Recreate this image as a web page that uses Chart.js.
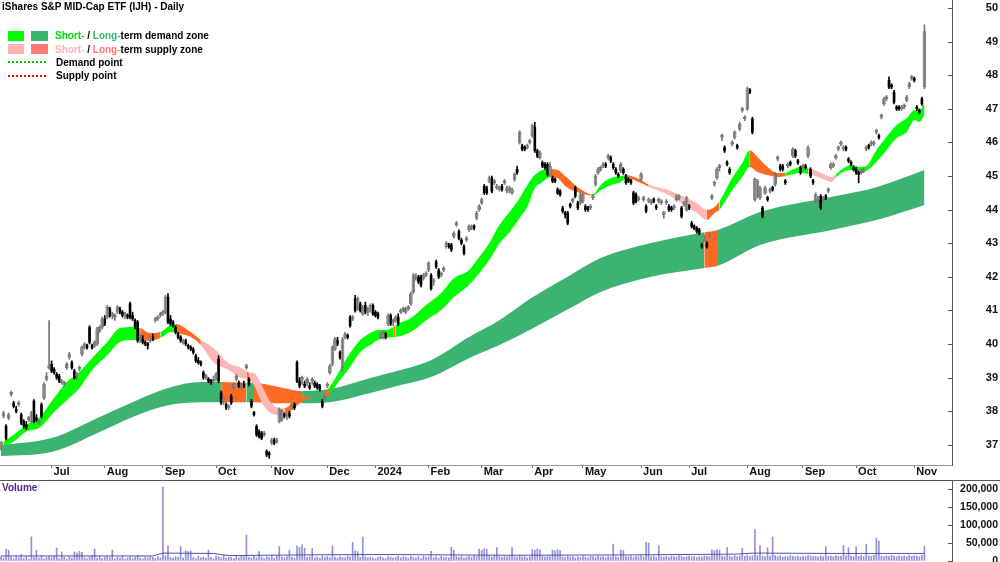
<!DOCTYPE html>
<html>
<head>
<meta charset="utf-8">
<script src="https://cdn.jsdelivr.net/npm/chart.js@4.4.1/dist/chart.umd.min.js"></script>
<style>
html, body { margin: 0; padding: 0; background: #fff; }
#wrap { position: relative; width: 1000px; height: 562px; overflow: hidden; }
#price { position: absolute; left: 0; top: 0; }
#vol { position: absolute; left: 0; top: 481px; }
#sep { position: absolute; left: 0; top: 480px; width: 1000px; height: 1px; background: #555; }
#title { position: absolute; left: 2px; top: 0px; font-weight: bold; color: #000; white-space: nowrap; transform-origin: 0 0; }
#legend { position: absolute; left: 8px; top: 29px; font-weight: bold; color: #000; }
.row { height: 13.4px; display: flex; align-items: center; white-space: nowrap; }
.sw { display: inline-block; width: 16px; height: 10px; margin-right: 7px; }
.dots { display: inline-block; width: 40px; height: 2px; margin-right: 8px; }
.g { background: repeating-linear-gradient(90deg, #00cc00 0 2px, transparent 2px 4px); }
.r { background: repeating-linear-gradient(90deg, #ff0000 0 2px, transparent 2px 4px); }
#vlabel { position: absolute; left: 2px; top: 482px; color: #55228a; font-weight: bold; }
</style>
</head>
<body>
<div id="wrap">
  <canvas id="price" width="1000" height="480"></canvas>
  <div id="sep"></div>
  <canvas id="vol" width="1000" height="81"></canvas>
  <div id="title">iShares S&amp;P MID-Cap ETF (IJH) - Daily</div>
  <div id="legend">
    <div class="row"><span class="sw" style="background:#00ff00"></span><span class="sw" style="background:#3cb371;width:17px"></span><span><span style="color:#00dd00">Short-</span> / <span style="color:#3cb371">Long-</span>term demand zone</span></div>
    <div class="row"><span class="sw" style="background:#ffb3b3"></span><span class="sw" style="background:#ff7777;width:17px"></span><span><span style="color:#ffb3b3">Short-</span> / <span style="color:#ff7777">Long-</span>term supply zone</span></div>
    <div class="row"><span class="dots g"></span><span>Demand point</span></div>
    <div class="row"><span class="dots r"></span><span>Supply point</span></div>
  </div>
  <div id="vlabel">Volume</div>
</div>
<script>
// daily candles, one per trading day (index 0 = early June 2023)
const opens = [
36.95,37.85,37.55,37.80,38.50,38.25,38.05,38.20,37.90,37.70, 37.60,37.75,37.70,38.30,37.80,37.65,38.20,38.40,38.95,39.30,
39.40,39.25,39.10,39.05,38.85,38.80,39.30,39.60,39.45,39.20, 39.05,39.25,39.70,39.90,39.95,40.50,39.95,39.95,40.00,40.40,
40.50,40.75,40.80,41.05,40.85,40.80,40.95,41.05,40.95,40.85, 40.85,41.20,40.85,40.70,40.65,40.20,40.15,40.05,40.00,40.10,
40.20,40.70,40.75,40.85,40.90,40.95,41.40,40.75,40.65,40.50, 40.30,40.20,40.05,40.10,39.95,39.90,39.85,39.65,39.50,39.45,
39.15,39.00,38.95,38.90,38.90,39.00,39.55,38.55,38.30,38.20, 38.10,38.45,38.70,38.95,38.85,38.75,38.80,39.30,38.95,38.30,
37.95,37.55,37.40,37.35,37.30,36.80,36.75,37.05,37.15,37.10, 37.70,37.75,37.90,37.85,37.95,38.15,38.20,39.45,38.90,38.95,
38.80,38.85,38.75,38.90,38.85,38.80,38.75,38.30,38.40,38.75, 39.15,39.40,39.85,40.10,39.75,39.30,40.20,40.25,40.80,40.75,
41.35,41.05,41.20,40.90,41.15,40.95,41.00,41.15,40.95,40.90, 40.20,40.20,40.30,40.60,40.85,40.65,40.70,40.80,40.95,41.00,
40.95,41.05,41.20,41.55,41.95,42.00,42.00,41.95,42.05,42.20, 42.05,41.85,42.45,42.20,42.05,42.20,42.90,42.95,42.95,43.20,
43.55,43.35,43.10,42.90,43.10,43.40,43.45,43.50,43.75,44.00, 44.20,44.70,44.65,44.85,44.95,44.80,44.65,44.60,44.70,44.80,
44.55,44.55,44.50,44.90,45.20,46.00,45.90,45.85,45.85,46.00, 46.20,46.45,45.75,45.55,45.40,45.35,45.35,45.05,44.95,44.90,
44.60,44.55,44.05,43.90,43.90,44.15,44.25,44.65,44.20,44.20, 44.25,44.10,44.05,44.05,44.35,44.75,45.10,45.20,45.30,45.35,
45.55,45.55,45.35,45.20,45.05,45.15,45.20,45.00,44.90,44.85, 44.50,44.45,44.30,44.90,44.30,44.10,44.25,44.20,44.30,44.10,
44.25,44.20,43.85,44.20,44.10,44.05,44.05,44.30,44.35,44.05, 44.15,44.00,44.10,43.60,43.50,43.45,43.40,42.95,43.10,43.00,
43.20,44.35,44.75,44.95,45.25,46.15,45.85,45.40,45.20,45.95, 46.15,45.90,46.40,46.95,46.70,47.00,47.55,46.70,44.30,44.40,
44.35,44.05,44.50,44.35,44.55,44.65,44.75,45.50,45.30,45.30, 44.85,45.30,45.40,45.60,45.75,45.45,45.25,45.25,45.30,45.60,
45.20,44.85,44.25,44.30,44.40,44.30,44.40,44.55,45.25,45.30, 45.55,45.80,45.95,45.80,45.85,45.50,45.40,45.25,45.20,45.10,
45.10,45.15,45.80,45.90,45.95,45.95,46.30,46.20,46.75,47.15, 47.30,47.85,47.70,47.50,47.05,47.05,47.00,47.05,47.25,47.65,
47.90,47.90,47.05,46.95,47.30,47.65];
const highs = [
37.10,38.00,37.60,37.95,38.60,38.30,38.15,38.30,37.95,37.75, 37.70,37.85,38.00,38.35,37.90,37.75,38.25,38.85,39.15,40.70,
39.50,39.30,39.15,39.10,38.95,38.90,39.45,39.75,39.50,39.25, 39.15,39.35,39.95,40.05,40.00,40.55,40.00,40.10,40.50,40.55,
40.80,40.85,41.15,41.10,40.95,40.90,41.15,41.10,41.00,40.95, 40.90,41.25,40.95,40.75,40.70,40.30,40.25,40.10,40.05,40.25,
40.30,40.80,40.85,40.95,41.00,41.45,41.50,40.85,40.70,40.55, 40.35,40.25,40.15,40.15,40.00,39.95,39.90,39.70,39.60,39.50,
39.20,39.10,39.00,38.95,39.05,39.15,39.65,38.60,38.40,38.25, 38.20,38.50,38.85,39.10,38.90,38.85,38.90,39.40,39.00,38.35,
38.00,37.60,37.45,37.40,37.40,36.85,36.80,37.20,37.20,37.20, 38.10,38.05,37.95,37.95,38.00,38.25,38.25,39.50,39.00,39.05,
38.90,39.00,38.85,39.00,38.90,38.85,38.80,38.35,38.50,38.85, 39.40,39.95,40.20,40.20,39.80,40.20,40.35,40.30,40.85,40.85,
41.45,41.40,41.25,41.15,41.25,41.10,41.20,41.20,41.00,40.95, 40.35,40.40,40.35,40.90,40.90,40.75,40.85,40.90,41.05,41.10,
41.10,41.15,41.55,42.10,42.10,42.05,42.05,42.10,42.15,42.45, 42.10,41.95,42.50,42.25,42.15,42.30,43.05,43.00,43.00,43.35,
43.65,43.40,43.15,42.95,43.20,43.55,43.55,43.55,43.95,44.15, 44.35,44.75,44.70,45.00,45.00,44.90,44.75,44.70,44.75,44.90,
44.70,44.70,44.65,45.10,45.30,46.35,45.95,45.90,45.95,46.10, 46.55,46.60,45.80,45.75,45.45,45.40,45.40,45.40,45.00,44.95,
44.65,44.60,44.10,43.95,43.95,44.20,44.35,44.70,44.25,44.50, 44.50,44.15,44.10,44.15,44.45,45.05,45.25,45.30,45.40,45.40,
45.65,45.60,45.40,45.25,45.10,45.40,45.25,45.05,44.95,44.90, 44.55,44.50,44.40,45.10,44.40,44.15,44.35,44.30,44.35,44.15,
44.35,44.30,43.95,44.30,44.15,44.10,44.15,44.45,44.45,44.10, 44.25,44.40,44.15,43.65,43.55,43.50,43.45,43.00,43.25,43.05,
43.30,44.45,44.85,45.25,45.35,46.25,45.90,45.45,45.25,46.05, 46.35,45.95,46.60,47.05,46.80,47.65,47.60,46.75,44.95,44.90,
44.70,44.10,44.70,44.40,44.65,44.70,45.10,45.60,45.35,45.35, 44.90,45.40,45.45,45.85,45.80,45.50,45.30,45.35,45.35,45.90,
45.25,44.90,44.50,44.40,44.45,44.40,44.45,44.65,45.40,45.40, 45.65,45.90,46.05,45.90,45.90,45.55,45.45,45.30,45.25,45.15,
45.20,45.25,45.90,45.95,46.05,46.05,46.40,46.25,46.85,47.35, 47.40,47.95,47.75,47.55,47.10,47.10,47.10,47.15,47.40,47.80,
48.00,47.95,47.10,47.00,47.35,49.50];
const lows = [
36.85,37.80,37.15,37.75,38.45,38.10,37.95,38.15,37.60,37.50, 37.45,37.70,37.65,37.65,37.70,37.60,37.80,38.35,38.90,39.25,
39.15,39.10,38.95,38.85,38.80,38.75,39.25,39.55,39.25,38.95, 38.95,39.20,39.65,39.85,39.85,40.00,39.85,39.90,39.95,40.35,
40.45,40.55,40.75,40.80,40.75,40.70,40.90,40.90,40.80,40.75, 40.75,40.75,40.70,40.45,40.05,40.05,40.00,39.95,39.85,40.05,
40.10,40.65,40.70,40.80,40.85,40.90,40.60,40.55,40.50,40.30, 40.15,40.05,40.00,39.95,39.85,39.80,39.70,39.45,39.40,39.35,
38.95,38.95,38.85,38.80,38.85,38.90,38.85,38.20,38.20,38.05, 38.05,38.20,38.65,38.90,38.70,38.65,38.70,39.25,38.75,38.10,
37.85,37.25,37.20,37.15,37.25,36.65,36.60,37.00,37.00,37.05, 37.65,37.70,37.80,37.75,37.80,38.10,38.05,38.85,38.70,38.80,
38.70,38.75,38.65,38.80,38.70,38.65,38.60,38.10,38.35,38.70, 39.10,39.35,39.80,39.95,39.55,39.20,40.15,40.15,40.50,40.70,
40.95,41.00,40.95,40.85,40.90,40.85,40.95,40.85,40.80,40.75, 40.15,40.15,40.15,40.55,40.55,40.55,40.65,40.55,40.90,40.95,
40.90,41.00,41.15,41.50,41.90,41.80,41.70,41.90,42.00,42.15, 41.60,41.75,42.25,41.95,42.00,42.15,42.85,42.85,42.75,43.15,
43.50,43.10,42.95,42.65,43.05,43.35,43.40,43.40,43.70,43.95, 44.15,44.45,44.45,44.80,44.50,44.75,44.60,44.55,44.55,44.75,
44.50,44.50,44.45,44.85,45.05,45.95,45.75,45.75,45.80,45.95, 46.15,45.70,45.55,45.50,45.25,45.20,45.00,45.00,44.80,44.80,
44.45,44.40,43.90,43.75,43.55,44.05,44.20,44.35,44.00,44.15, 44.20,43.95,43.95,44.00,44.30,44.70,45.05,45.15,45.25,45.25,
45.50,45.40,45.20,45.05,44.95,45.10,45.05,44.75,44.80,44.75, 44.15,44.20,44.25,44.85,44.25,43.90,44.20,44.15,44.20,44.00,
44.20,44.15,43.75,44.15,43.95,43.95,44.00,44.25,44.30,43.75, 44.10,43.95,44.00,43.45,43.40,43.30,43.25,42.85,43.05,42.85,
43.15,44.30,44.70,44.90,45.15,46.05,45.70,45.30,45.05,45.90, 46.10,45.80,46.35,46.90,46.65,46.95,47.45,46.25,44.25,44.35,
44.30,43.75,44.45,44.25,44.50,44.55,44.70,45.45,45.15,45.15, 44.75,45.25,45.30,45.55,45.55,45.35,45.05,45.20,45.20,45.55,
44.95,44.75,44.20,44.25,44.00,44.25,44.30,44.50,45.20,45.25, 45.50,45.75,45.90,45.75,45.75,45.40,45.30,45.15,45.05,44.80,
45.05,45.10,45.75,45.80,45.90,45.90,46.25,46.10,46.70,47.10, 47.25,47.60,47.60,47.15,46.95,46.95,46.95,47.00,47.20,47.60,
47.85,47.80,46.95,46.85,47.10,47.60];
const closes = [
37.05,37.95,37.20,37.90,38.55,38.15,38.00,38.25,37.65,37.55, 37.50,37.80,37.95,37.70,37.75,37.70,37.85,38.80,39.05,39.35,
39.20,39.15,39.00,38.90,38.90,38.85,39.40,39.70,39.30,39.00, 39.10,39.30,39.90,40.00,39.90,40.05,39.90,40.05,40.45,40.50,
40.75,40.60,41.10,40.85,40.90,40.85,41.10,40.95,40.85,40.90, 40.80,40.80,40.75,40.50,40.10,40.25,40.05,40.00,39.95,40.20,
40.15,40.75,40.80,40.90,40.95,41.40,40.65,40.60,40.55,40.35, 40.20,40.10,40.10,40.00,39.90,39.85,39.75,39.50,39.45,39.40,
39.00,39.05,38.90,38.85,38.95,39.10,38.90,38.25,38.35,38.10, 38.15,38.25,38.80,39.05,38.75,38.80,38.75,39.35,38.80,38.15,
37.90,37.30,37.25,37.20,37.35,36.70,36.70,37.15,37.05,37.15, 38.05,38.00,37.85,37.90,37.85,38.20,38.10,38.90,38.75,39.00,
38.75,38.95,38.70,38.95,38.75,38.70,38.65,38.15,38.45,38.80, 39.35,39.90,40.15,40.00,39.60,40.15,40.30,40.20,40.55,40.80,
41.00,41.35,41.00,41.10,40.95,41.05,41.15,40.90,40.85,40.80, 40.30,40.35,40.20,40.85,40.60,40.70,40.80,40.60,41.00,41.05,
41.05,41.10,41.50,42.05,42.00,41.85,41.75,42.05,42.10,42.40, 41.65,41.90,42.30,42.00,42.10,42.25,43.00,42.90,42.80,43.30,
43.60,43.15,43.00,42.70,43.15,43.50,43.50,43.45,43.90,44.10, 44.30,44.50,44.50,44.95,44.55,44.85,44.70,44.65,44.60,44.85,
44.65,44.65,44.60,45.05,45.10,46.30,45.80,45.80,45.90,46.05, 46.50,45.75,45.60,45.70,45.30,45.25,45.05,45.30,44.85,44.85,
44.50,44.45,43.95,43.85,43.60,44.10,44.30,44.40,44.05,44.45, 44.45,44.00,44.00,44.10,44.40,45.00,45.20,45.25,45.35,45.30,
45.60,45.45,45.25,45.10,45.00,45.35,45.10,44.80,44.85,44.80, 44.20,44.25,44.35,45.05,44.35,43.95,44.30,44.25,44.25,44.05,
44.30,44.25,43.90,44.25,44.00,44.00,44.10,44.40,44.40,43.80, 44.20,44.35,44.05,43.50,43.45,43.35,43.30,42.90,43.20,42.90,
43.25,44.40,44.80,45.20,45.30,46.20,45.75,45.35,45.10,46.00, 46.30,45.85,46.55,47.00,46.75,47.60,47.50,46.30,44.90,44.85,
44.65,43.80,44.65,44.30,44.60,44.60,45.05,45.55,45.20,45.20, 44.80,45.35,45.35,45.80,45.60,45.40,45.10,45.30,45.25,45.85,
45.00,44.80,44.45,44.35,44.05,44.35,44.35,44.60,45.35,45.35, 45.60,45.85,46.00,45.85,45.80,45.45,45.35,45.20,45.10,45.05,
45.15,45.20,45.85,45.85,46.00,46.00,46.35,46.15,46.80,47.30, 47.35,47.65,47.65,47.20,47.00,47.00,47.05,47.10,47.35,47.75,
47.95,47.85,47.00,46.90,47.15,49.30];

// volume, thousands of units per day
const volumes = [
12,8,33,30,10,6,14,9,18,7,12,5,67,11,30,8,15,6,10,13,
9,14,36,7,25,10,5,12,8,25,22,27,24,9,6,11,15,33,8,12,
7,10,13,9,30,6,11,8,14,5,9,12,7,10,16,8,6,11,9,13,
10,7,12,9,205,14,42,10,8,12,11,40,9,28,26,28,10,7,13,9,
11,8,30,10,6,14,12,9,16,8,11,10,7,13,9,15,12,72,10,8,
14,9,26,11,7,12,10,15,8,13,40,11,9,12,30,10,8,42,38,45,
36,10,12,35,9,11,8,14,10,13,9,42,11,8,12,10,9,14,11,52,
28,26,10,67,12,9,11,8,6,10,13,9,7,12,11,8,10,14,9,12,
11,8,13,10,9,12,7,14,10,11,27,9,12,8,13,10,11,9,38,30,
12,10,14,9,11,13,10,15,12,33,30,34,33,14,11,16,37,12,10,13,
11,14,37,12,10,15,11,13,9,12,32,30,33,31,14,11,13,12,30,28,
31,29,12,10,14,11,13,9,12,10,15,11,9,13,12,10,14,11,12,9,
13,11,47,12,10,30,29,12,11,14,10,13,12,15,11,52,50,12,14,10,
43,12,11,13,10,14,12,11,15,13,10,12,14,11,13,10,12,11,14,13,
12,30,29,31,30,14,12,37,13,11,15,12,14,35,13,16,12,14,88,15,
43,14,12,37,13,67,15,12,14,11,13,12,15,13,12,14,11,13,12,15,
14,12,13,11,15,12,40,13,14,12,16,13,14,43,15,37,14,12,40,13,
15,12,47,14,13,16,63,55,14,12,15,13,16,14,12,15,13,14,12,16,
13,15,14,12,16,40];
const volMaIdx = [0, 60, 64, 84, 90, 120, 150, 200, 250, 290, 298, 330, 365];
const volMa = [14, 14, 22, 21, 15, 17, 18, 16, 17, 19, 22, 21, 21];

// long-term zone band (upper / lower edge), state: d = demand, x = turning
const ltIdx = [0, 20, 39, 52, 66, 79, 87, 97, 100, 108, 119, 130, 146, 158, 170, 185, 197, 209, 225, 237, 257, 278, 283, 300, 328, 346, 365];
const ltHi = [36.99, 37.20, 37.83, 38.27, 38.69, 38.87, 38.87, 38.84, 38.84, 38.75, 38.60, 38.66, 38.99, 39.23, 39.52, 40.21, 40.71, 41.34, 42.05, 42.56, 43.01, 43.33, 43.39, 43.93, 44.38, 44.67, 45.18];
const ltLo = [36.67, 36.79, 37.38, 37.83, 38.18, 38.27, 38.27, 38.27, 38.27, 38.24, 38.24, 38.27, 38.54, 38.78, 39.02, 39.58, 39.97, 40.42, 41.07, 41.55, 42.00, 42.26, 42.32, 42.95, 43.39, 43.69, 44.14];
const ltState = ['d','d','d','d','d','d','x','d','x','x','d','d','d','d','d','d','d','d','d','d','d','x','d','d','d','d','d'];

// short-term zone band, state: d = demand, s = supply, x = turning
const stIdx = [0, 1, 5, 10, 15, 21, 26, 31, 36, 42, 47, 52, 55, 59, 63, 67, 69, 75, 79, 84, 90, 94, 97, 98, 100, 103, 106, 109, 112, 115, 118, 122, 128, 129, 130, 131, 134, 138, 142, 146, 149, 152, 155, 156, 162, 168, 174, 179, 185, 189, 193, 197, 201, 205, 208, 211, 214, 217, 220, 223, 228, 234, 237, 241, 245, 247, 253, 256, 264, 270, 275, 279, 282, 284, 289, 293, 296, 299, 303, 307, 310, 316, 319, 326, 328, 330, 332, 336, 340, 342, 346, 350, 354, 358, 361, 363, 365];
const stHi = [37.05, 37.10, 37.30, 37.60, 37.80, 38.40, 38.87, 39.17, 39.58, 40.06, 40.48, 40.51, 40.48, 40.33, 40.36, 40.57, 40.60, 40.36, 40.12, 39.88, 39.43, 39.32, 39.20, 39.15, 39.14, 38.78, 38.33, 38.12, 38.09, 38.24, 38.42, 38.44, 38.55, 38.62, 38.75, 38.84, 39.23, 39.73, 40.12, 40.33, 40.42, 40.42, 40.50, 40.57, 40.77, 41.16, 41.52, 41.96, 42.20, 42.59, 43.00, 43.54, 43.93, 44.35, 44.73, 45.03, 45.18, 45.21, 45.18, 45.00, 44.67, 44.45, 44.73, 44.94, 45.00, 45.03, 44.88, 44.75, 44.58, 44.38, 44.20, 43.99, 44.08, 44.25, 44.94, 45.39, 45.77, 45.57, 45.27, 45.09, 45.10, 45.27, 45.25, 45.03, 44.97, 45.05, 45.18, 45.33, 45.27, 45.30, 45.77, 46.16, 46.52, 46.72, 46.96, 46.96, 47.17];
const stLo = [36.90, 36.95, 37.10, 37.40, 37.50, 37.98, 38.33, 38.69, 39.23, 39.67, 40.06, 40.12, 40.12, 40.09, 40.18, 40.36, 40.33, 40.21, 39.97, 39.46, 39.23, 39.02, 38.95, 38.90, 38.78, 38.27, 37.98, 37.89, 37.92, 38.03, 38.24, 38.40, 38.50, 38.45, 38.55, 38.63, 38.93, 39.32, 39.76, 39.97, 40.12, 40.18, 40.20, 40.21, 40.36, 40.71, 41.01, 41.40, 41.76, 42.11, 42.50, 43.00, 43.33, 43.75, 44.08, 44.64, 44.82, 44.97, 44.94, 44.70, 44.52, 44.42, 44.58, 44.73, 44.82, 44.94, 44.79, 44.68, 44.43, 44.14, 43.90, 43.69, 43.90, 44.00, 44.58, 44.97, 45.27, 45.12, 45.03, 44.97, 45.00, 45.09, 45.06, 44.88, 44.82, 44.95, 45.09, 45.18, 45.12, 45.15, 45.42, 45.77, 46.13, 46.31, 46.67, 46.61, 46.82];
const stState = ['x','d','d','d','d','d','d','d','d','d','d','d','x','x','d','d','x','x','s','s','s','s','x','s','s','s','s','s','x','x','x','x','x','x','d','d','d','d','d','d','d','d','x','d','d','d','d','d','d','d','d','d','d','d','d','d','d','x','x','x','x','d','d','d','d','x','x','s','s','s','s','x','x','d','d','d','x','x','x','x','d','d','s','s','s','d','d','d','d','d','d','d','d','d','d','d','d'];

const priceTicks = [37, 38, 39, 40, 41, 42, 43, 44, 45, 46, 47, 48, 49, 50];
const volTicks = [0, 50000, 100000, 150000, 200000];
const monthIdx = [20, 41, 64, 85, 107, 129, 148, 169, 190, 210, 230, 253, 272, 295, 317, 338, 361];
const monthLbl = ['Jul', 'Aug', 'Sep', 'Oct', 'Nov', 'Dec', '2024', 'Feb', 'Mar', 'Apr', 'May', 'Jun', 'Jul', 'Aug', 'Sep', 'Oct', 'Nov'];

const ST_COL = { d: '#00ff00', s: '#ffb6b6', x: '#ff6a22' };
const LT_COL = { d: '#3cb371', s: '#ff7777', x: '#ff6a22' };

function hasFont(name) {
  const c = document.createElement('canvas').getContext('2d');
  c.font = '40px monospace';
  const a = c.measureText('abcdefghijMW').width;
  c.font = '40px "' + name + '", monospace';
  return c.measureText('abcdefghijMW').width !== a;
}
const narrow = hasFont('Liberation Sans Narrow');
const FAM = narrow ? '"Liberation Sans Narrow", "Liberation Sans", Arial, sans-serif' : '"Liberation Sans", Arial, sans-serif';
const AX = narrow ? 13 : 11;
const VX = narrow ? 12 : 10.5;
const titleEl = document.getElementById('title');
titleEl.style.fontFamily = FAM;
titleEl.style.fontSize = (narrow ? 12 : 11.5) + 'px';
if (!narrow) titleEl.style.transform = 'scaleX(0.87)';
document.getElementById('legend').style.cssText += ';font-family:' + FAM + ';font-size:' + (narrow ? 12 : 10) + 'px';
document.getElementById('vlabel').style.cssText += ';font-family:' + FAM + ';font-size:' + (narrow ? 12 : 10) + 'px';

const X_MIN = -0.4, X_MAX = 375.9;

// keep the chart area edge-to-edge: no extra room for edge labels
function noPad(s) {
  s.paddingLeft = 0; s.paddingRight = 0; s.paddingTop = 0; s.paddingBottom = 0;
}

const innerTicks = {
  id: 'innerTicks',
  afterDraw(chart) {
    const s = chart.scales.y, ctx = chart.ctx;
    ctx.save();
    ctx.strokeStyle = '#555';
    ctx.lineWidth = 1;
    s.ticks.forEach(t => {
      const py = Math.round(s.getPixelForValue(t.value)) + 0.5;
      ctx.beginPath();
      ctx.moveTo(s.left - 4, py);
      ctx.lineTo(s.left, py);
      ctx.stroke();
    });
    ctx.restore();
  }
};

function band(idx, vals, fill, state, cols, order) {
  const ds = {
    type: 'line',
    data: idx.map((x, k) => ({ x: x, y: vals[k] })),
    borderColor: 'rgba(0,0,0,0)',
    borderWidth: 1,
    pointRadius: 0,
    cubicInterpolationMode: 'monotone',
    fill: fill,
    order: order
  };
  if (state) {
    ds.backgroundColor = cols.d;
    ds.segment = { backgroundColor: c => cols[state[c.p0DataIndex]] };
  }
  return ds;
}

const days = closes.map((_, i) => i);
const isUp = i => closes[i] >= opens[i];
const barBase = { type: 'bar', grouped: false, borderSkipped: false, order: 0 };

new Chart(document.getElementById('price'), {
  type: 'bar',
  data: {
    datasets: [
      band(ltIdx, ltHi, '+1', ltState, LT_COL, 30),
      band(ltIdx, ltLo, false, null, null, 30),
      band(stIdx, stHi, '+1', stState, ST_COL, 20),
      band(stIdx, stLo, false, null, null, 20),
      Object.assign({}, barBase, {
        data: days.filter(isUp).map(i => ({ x: i, y: [lows[i], highs[i]] })),
        backgroundColor: '#777', barThickness: 1
      }),
      Object.assign({}, barBase, {
        data: days.filter(i => !isUp(i)).map(i => ({ x: i, y: [lows[i], highs[i]] })),
        backgroundColor: '#000', barThickness: 1
      }),
      Object.assign({}, barBase, {
        data: days.filter(isUp).map(i => ({ x: i, y: [opens[i], closes[i]] })),
        backgroundColor: '#fff', borderColor: '#777', borderWidth: 1, barThickness: 3, minBarLength: 2
      }),
      Object.assign({}, barBase, {
        data: days.filter(i => !isUp(i)).map(i => ({ x: i, y: [opens[i], closes[i]] })),
        backgroundColor: '#000', barThickness: 2, minBarLength: 2
      })
    ]
  },
  options: {
    responsive: false,
    animation: false,
    devicePixelRatio: 1,
    layout: { padding: { left: 0, right: 2, top: 0, bottom: 0 } },
    plugins: { legend: { display: false }, tooltip: { enabled: false } },
    scales: {
      x: {
        type: 'linear', min: X_MIN, max: X_MAX, offset: false,
        afterBuildTicks: s => { s.ticks = monthIdx.map(v => ({ value: v })); },
        afterFit: s => { s.height = 15; noPad(s); },
        grid: { drawOnChartArea: false, drawTicks: true, tickLength: 3, color: '#666', offset: false },
        border: { color: '#999' },
        ticks: {
          autoSkip: false, maxRotation: 0, align: 'start', padding: -3, labelOffset: 2,
          callback: (v, k) => monthLbl[k],
          color: '#111', font: { family: FAM, size: AX, weight: 'bold' }
        }
      },
      y: {
        position: 'right', min: 36.40, max: 50.24,
        afterBuildTicks: s => { s.ticks = priceTicks.map(v => ({ value: v })); },
        afterFit: s => { s.width = 46; noPad(s); },
        grid: { drawOnChartArea: false, drawTicks: false },
        border: { color: '#555' },
        ticks: { crossAlign: 'far', padding: 0, color: '#111', font: { family: FAM, size: AX, weight: 'bold' } }
      }
    }
  },
  plugins: [innerTicks]
});

new Chart(document.getElementById('vol'), {
  type: 'bar',
  data: {
    datasets: [
      {
        type: 'bar', grouped: false,
        data: volumes.map((v, i) => ({ x: i, y: v * 1000 })),
        backgroundColor: 'rgba(118,118,205,0.8)', barThickness: 1, order: 1
      },
      {
        type: 'line',
        data: volMaIdx.map((x, k) => ({ x: x, y: volMa[k] * 1000 })),
        borderColor: '#5050b4', borderWidth: 1, pointRadius: 0, fill: false, order: 0
      }
    ]
  },
  options: {
    responsive: false,
    animation: false,
    devicePixelRatio: 1,
    layout: { padding: { left: 0, right: 2, top: 0, bottom: 0 } },
    plugins: { legend: { display: false }, tooltip: { enabled: false } },
    scales: {
      x: { type: 'linear', min: X_MIN, max: X_MAX, offset: false, display: false },
      y: {
        position: 'right', min: -2778, max: 222222,
        afterBuildTicks: s => { s.ticks = volTicks.map(v => ({ value: v })); },
        afterFit: s => { s.width = 46; noPad(s); },
        grid: { drawOnChartArea: false, drawTicks: false },
        border: { color: '#555' },
        ticks: {
          crossAlign: 'far', padding: 0, color: '#111',
          callback: v => v.toLocaleString('en-US'),
          font: { family: FAM, size: VX, weight: 'bold' }
        }
      }
    }
  },
  plugins: [innerTicks]
});
</script>
</body>
</html>
